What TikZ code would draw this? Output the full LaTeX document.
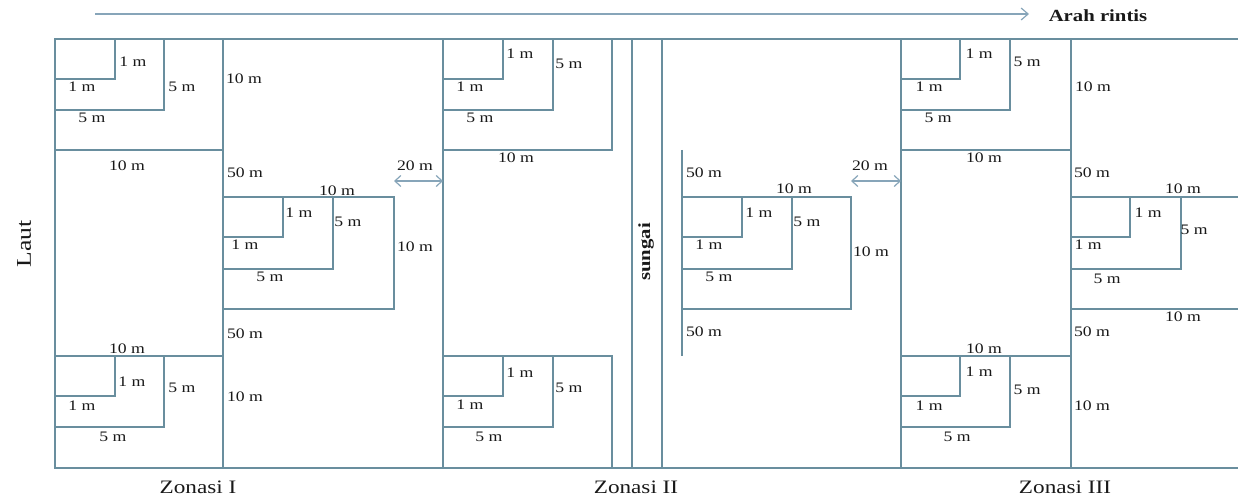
\documentclass[tikz,border=0pt]{standalone}
\usepackage{fontspec}
\setmainfont{Liberation Serif}[FakeStretch=1.22]
\usetikzlibrary{arrows.meta}
\definecolor{plot}{RGB}{105,142,158}
\definecolor{arr}{RGB}{135,165,185}
\definecolor{ink}{RGB}{25,25,25}
\tikzset{
  plotline/.style={draw=plot, line width=1.2pt},
  lbl/.style={inner sep=0pt, text=ink, font=\fontsize{14.5}{14.5}\selectfont},
  zlbl/.style={inner sep=0pt, text=ink, font=\fontsize{19}{19}\selectfont},
  albl/.style={inner sep=0pt, text=ink, font=\fontsize{17}{17}\selectfont\bfseries},
  dimarrow/.style={draw=arr, line width=1.2pt, {Straight Barb[length=6pt,width=11pt]}-{Straight Barb[length=6pt,width=11pt]}}
}
\begin{document}
\begin{tikzpicture}[x=1pt,y=-1pt]
\useasboundingbox (0,0) rectangle (1238,497);
% direction arrow
\coordinate (as) at (95,14);
\coordinate (ae) at (1029,14);
\draw[draw=arr, line width=1.2pt, -{Straight Barb[length=7pt,width=12pt]}] (as) -- (ae);
\node[albl] (arah) at (1098,16) {Arah rintis};
% frame
\draw[plotline] (1238,39) -- (55,39) -- (55,468) -- (1238,468);
\foreach \x in {223,443,632,662,901,1071} \draw[plotline] (\x,39) -- (\x,468);
% Zone I
\draw[plotline] (55,150) -- (223,150);
\draw[plotline] (55,356) -- (223,356);
\draw[plotline] (115,39) -- (115,79) -- (55,79);
\draw[plotline] (164,39) -- (164,110) -- (55,110);
\draw[plotline] (115,356) -- (115,396) -- (55,396);
\draw[plotline] (164,356) -- (164,427) -- (55,427);
\draw[plotline] (223,197) -- (394,197) -- (394,309) -- (223,309);
\draw[plotline] (333,197) -- (333,269) -- (223,269);
\draw[plotline] (283,197) -- (283,237) -- (223,237);
% Zone II
\draw[plotline] (612,39) -- (612,150) -- (443,150);
\draw[plotline] (553,39) -- (553,110) -- (443,110);
\draw[plotline] (503,39) -- (503,79) -- (443,79);
\draw[plotline] (443,356) -- (612,356) -- (612,468);
\draw[plotline] (553,356) -- (553,427) -- (443,427);
\draw[plotline] (503,356) -- (503,396) -- (443,396);
\draw[plotline] (682,150) -- (682,356);
\draw[plotline] (682,197) -- (851,197) -- (851,309) -- (682,309);
\draw[plotline] (792,197) -- (792,269) -- (682,269);
\draw[plotline] (742,197) -- (742,237) -- (682,237);
% Zone III
\draw[plotline] (901,150) -- (1071,150);
\draw[plotline] (1010,39) -- (1010,110) -- (901,110);
\draw[plotline] (960,39) -- (960,79) -- (901,79);
\draw[plotline] (901,356) -- (1071,356);
\draw[plotline] (1010,356) -- (1010,427) -- (901,427);
\draw[plotline] (960,356) -- (960,396) -- (901,396);
\draw[plotline] (1071,197) -- (1238,197);
\draw[plotline] (1071,309) -- (1238,309);
\draw[plotline] (1181,197) -- (1181,269) -- (1071,269);
\draw[plotline] (1130,197) -- (1130,237) -- (1071,237);
% 20 m arrows
\coordinate (d1a) at (394,181); \coordinate (d1b) at (443,181);
\coordinate (d2a) at (851,181); \coordinate (d2b) at (901,181);
\draw[dimarrow] (d1a) -- (d1b);
\draw[dimarrow] (d2a) -- (d2b);
% labels
\foreach \x/\y/\t [count=\i] in {
  133/62/1 m, 82/87/1 m, 182/87/5 m, 92/118/5 m, 127/166/10 m, 244/79/10 m, 245/173/50 m,
  415/166/20 m, 337/191/10 m, 299/213/1 m, 348/222/5 m, 245/245/1 m, 415/247/10 m, 270/277/5 m,
  245/334/50 m, 127/349/10 m, 132/382/1 m, 182/388/5 m, 82/406/1 m, 113/437/5 m, 245/397/10 m,
  520/54/1 m, 569/64/5 m, 470/87/1 m, 480/118/5 m, 516/158/10 m, 520/373/1 m, 569/388/5 m,
  470/405/1 m, 489/437/5 m, 704/173/50 m, 794/189/10 m, 759/213/1 m, 807/222/5 m, 709/245/1 m,
  871/252/10 m, 719/277/5 m, 704/332/50 m, 870/166/20 m,
  979/54/1 m, 1027/62/5 m, 929/87/1 m, 938/118/5 m, 984/158/10 m, 1093/87/10 m, 1092/173/50 m,
  1183/189/10 m, 1148/213/1 m, 1194/230/5 m, 1088/245/1 m, 1107/279/5 m, 1183/317/10 m,
  1092/332/50 m, 1092/406/10 m, 984/349/10 m, 979/372/1 m, 1027/390/5 m, 929/406/1 m, 957/437/5 m}
  \node[lbl] (lab\i) at (\x,\y) {\t};
% titles
\node[zlbl] (z1) at (198,487) {Zonasi I};
\node[zlbl] (z2) at (636,487) {Zonasi II};
\node[zlbl] (z3) at (1065,487) {Zonasi III};
\node[inner sep=0pt, text=ink, font=\fontsize{21}{21}\selectfont, rotate=90] (laut) at (24,244) {Laut};
\node[inner sep=0pt, text=ink, font=\fontsize{17}{17}\selectfont\bfseries, rotate=90] (sungai) at (646,252) {sungai};
\end{tikzpicture}
\end{document}
